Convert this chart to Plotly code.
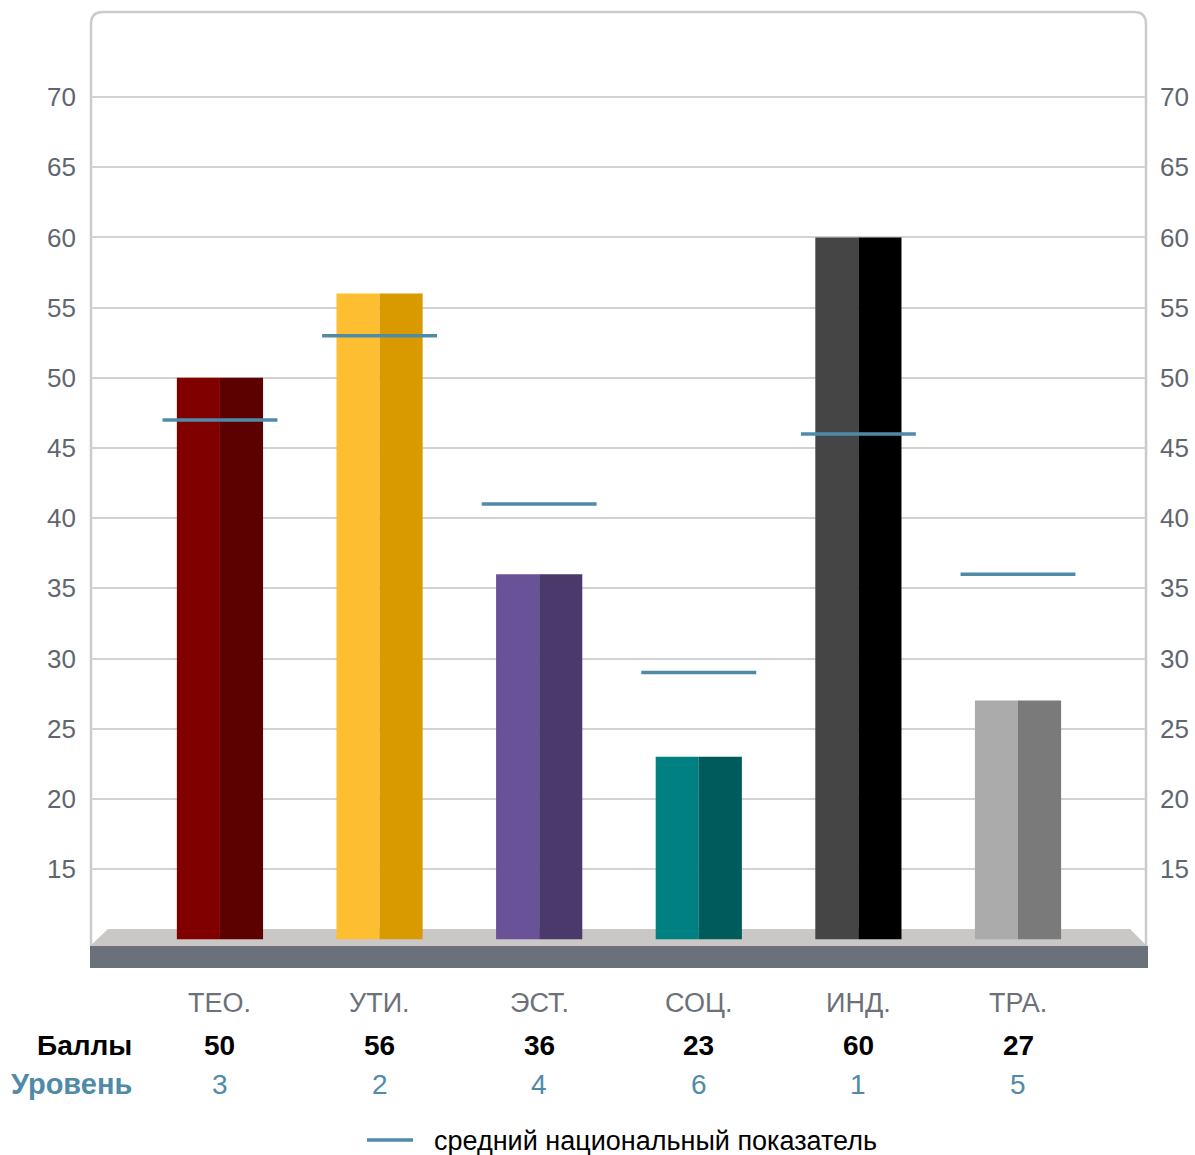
import plotly.graph_objects as go

# ---- data ----
categories = ["ТЕО.", "УТИ.", "ЭСТ.", "СОЦ.", "ИНД.", "ТРА."]
scores = [50, 56, 36, 23, 60, 27]
national_avg = [47, 53, 41, 29, 46, 36]
ranks = [3, 2, 4, 6, 1, 5]
light_colors = ["#800000", "#fdbf31", "#6a5299", "#008080", "#454545", "#ababab"]
dark_colors = ["#5c0000", "#d99a00", "#4a396b", "#005c5c", "#000000", "#7a7a7a"]
y_ticks = [15, 20, 25, 30, 35, 40, 45, 50, 55, 60, 65, 70]
avg_label = "средний национальный показатель"

BASE = 10
W, H = 1195, 1155
ML, MR, MT, MB = 91, 49, 12, 187
PW, PH = W - ML - MR, H - MT - MB

FONT = "Liberation Sans, Arial, sans-serif"
TICK_GREY = "#5f6670"
BLUE = "#4f8ba9"

xs = list(range(len(categories)))


def px(x):
    return (x - ML) / PW


def py(y):
    return (H - MB - y) / PH


fig = go.Figure()

# two-tone bars: lighter left half, darker right half
half = 0.27
fig.add_trace(go.Bar(
    x=xs, y=[s - BASE for s in scores], base=BASE,
    width=half, offset=-half,
    marker=dict(color=light_colors, line=dict(width=0)),
    showlegend=False, hoverinfo="skip",
))
fig.add_trace(go.Bar(
    x=xs, y=[s - BASE for s in scores], base=BASE,
    width=half, offset=0,
    marker=dict(color=dark_colors, line=dict(width=0)),
    showlegend=False, hoverinfo="skip",
))

# national average markers
seg_x, seg_y = [], []
for i, v in zip(xs, national_avg):
    seg_x += [i - 0.36, i + 0.36, None]
    seg_y += [v, v, None]
fig.add_trace(go.Scatter(
    x=seg_x, y=seg_y, mode="lines",
    line=dict(color=BLUE, width=3.5),
    name=avg_label, showlegend=False,
    hoverinfo="skip",
))

# right-hand duplicate axis
fig.add_trace(go.Scatter(x=[None], y=[None], yaxis="y2", showlegend=False, hoverinfo="skip"))

shapes = []
# floor: slanted top surface
shapes.append(dict(
    type="path", xref="paper", yref="paper", layer="below",
    path=f"M {px(108)},{py(929)} L {px(1130)},{py(929)} L {px(1147)},{py(946)} L {px(90)},{py(946)} Z",
    fillcolor="#c9c8c6", line=dict(width=0),
))
# floor: front edge
shapes.append(dict(
    type="rect", xref="paper", yref="paper", layer="below",
    x0=px(90), x1=px(1148), y0=py(968), y1=py(946),
    fillcolor="#6a717b", line=dict(width=0),
))
# rounded frame
r = 12
frame = (
    f"M {px(91)},{py(946)} L {px(91)},{py(12 + r)} "
    f"Q {px(91)},{py(12)} {px(91 + r)},{py(12)} "
    f"L {px(1146 - r)},{py(12)} "
    f"Q {px(1146)},{py(12)} {px(1146)},{py(12 + r)} "
    f"L {px(1146)},{py(946)}"
)
shapes.append(dict(
    type="path", xref="paper", yref="paper", layer="below",
    path=frame, line=dict(color="#cbcbcb", width=2.5),
))
# legend key
shapes.append(dict(
    type="line", xref="paper", yref="paper",
    x0=px(367), x1=px(413), y0=py(1140), y1=py(1140),
    line=dict(color=BLUE, width=3.5),
))

annotations = []
for i, cat, s, rk in zip(xs, categories, scores, ranks):
    annotations.append(dict(x=i, y=py(1003), xref="x", yref="paper", text=cat, yanchor="middle",
                            showarrow=False, font=dict(size=27, color="#6b7079", family=FONT)))
    annotations.append(dict(x=i, y=py(1045), xref="x", yref="paper", text=f"<b>{s}</b>", yanchor="middle",
                            showarrow=False, font=dict(size=28, color="#000000", family=FONT)))
    annotations.append(dict(x=i, y=py(1084), xref="x", yref="paper", text=str(rk), yanchor="middle",
                            showarrow=False, font=dict(size=28, color=BLUE, family=FONT)))
annotations.append(dict(x=px(134), y=py(1045), xref="paper", yref="paper", text="<b>Баллы</b>",
                        xanchor="right", yanchor="middle", showarrow=False,
                        font=dict(size=28, color="#000000", family=FONT)))
annotations.append(dict(x=px(134), y=py(1084), xref="paper", yref="paper", text="<b>Уровень</b>",
                        xanchor="right", yanchor="middle", showarrow=False,
                        font=dict(size=29, color=BLUE, family=FONT)))
annotations.append(dict(x=px(432), y=py(1141), xref="paper", yref="paper", text=avg_label,
                        xanchor="left", yanchor="middle", showarrow=False,
                        font=dict(size=27, color="#000000", family=FONT)))

axis_common = dict(
    range=[7.95, 76.06], tickvals=y_ticks, ticks="", zeroline=False,
    tickfont=dict(size=26, color=TICK_GREY, family=FONT), fixedrange=True,
)

fig.update_layout(
    width=W, height=H,
    margin=dict(l=ML, r=MR, t=MT, b=MB, autoexpand=False),
    paper_bgcolor="white", plot_bgcolor="white",
    font=dict(family=FONT),
    barmode="overlay",
    xaxis=dict(range=[-0.808, 5.802], showticklabels=False, showgrid=False,
               zeroline=False, fixedrange=True),
    yaxis=dict(**axis_common, showgrid=True, gridcolor="#d2d2d2", gridwidth=2,
               ticklabelstandoff=14),
    yaxis2=dict(**axis_common, overlaying="y", side="right", showgrid=False,
                ticklabelstandoff=13),
    shapes=shapes,
    annotations=annotations,
    showlegend=False,
)

fig.write_html("out.html")
